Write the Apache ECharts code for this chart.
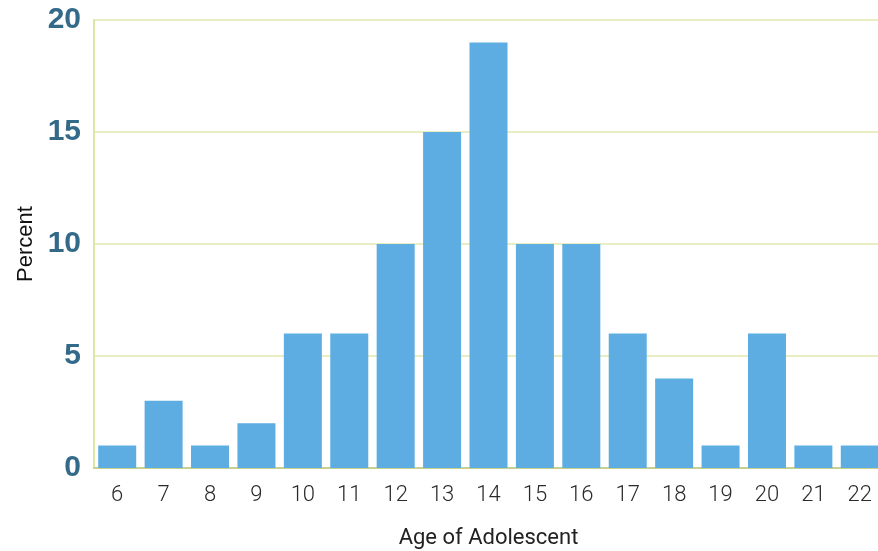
<!DOCTYPE html>
<html>
<head>
<meta charset="utf-8">
<script src="https://cdn.jsdelivr.net/npm/echarts@6/dist/echarts.min.js"></script>
<style>
  html, body { margin: 0; padding: 0; background: #ffffff; }
  #chart { width: 878px; height: 551px; }
</style>
</head>
<body>
<div id="chart"></div>
<script>
// Share of adolescents by age
const ages = ['6', '7', '8', '9', '10', '11', '12', '13', '14', '15', '16', '17', '18', '19', '20', '21', '22'];
const percents = [1, 3, 1, 2, 6, 6, 10, 15, 19, 10, 10, 6, 4, 1, 6, 1, 1];
const yTicks = [0, 5, 10, 15, 20];

const chart = echarts.init(document.getElementById('chart'), null, { renderer: 'canvas' });

chart.setOption({
  animation: false,
  backgroundColor: '#ffffff',
  grid: { left: 94, top: 20, width: 789, height: 448, containLabel: false, outerBoundsMode: 'none' },
  xAxis: {
    type: 'category',
    data: ages,
    axisLine: { show: true, lineStyle: { color: '#c9d08e', width: 2 } },
    axisTick: { show: false },
    axisLabel: {
      color: '#2a2a2a',
      fontFamily: 'Roboto',
      fontWeight: 300,
      fontSize: 22,
      margin: 16
    },
    name: 'Age of Adolescent',
    nameLocation: 'middle',
    nameGap: 59,
    nameTextStyle: { color: '#222222', fontFamily: 'Roboto', fontSize: 22 }
  },
  yAxis: {
    type: 'value',
    min: yTicks[0],
    max: yTicks[yTicks.length - 1],
    interval: 5,
    axisLine: { show: true, lineStyle: { color: '#dde6a4', width: 2 } },
    axisTick: { show: false },
    splitLine: { show: true, lineStyle: { color: '#e1e9ad', width: 1.5 } },
    axisLabel: {
      color: '#336a8a',
      fontFamily: 'Liberation Sans',
      fontWeight: 'bold',
      fontSize: 30,
      margin: 13
    },
    name: 'Percent',
    nameLocation: 'middle',
    nameRotate: 90,
    nameGap: 57,
    nameTextStyle: { color: '#111111', fontFamily: 'Liberation Sans', fontSize: 22 }
  },
  series: [{
    type: 'bar',
    data: percents,
    barWidth: 38,
    itemStyle: { color: '#5dade2' }
  }]
});
</script>
</body>
</html>
